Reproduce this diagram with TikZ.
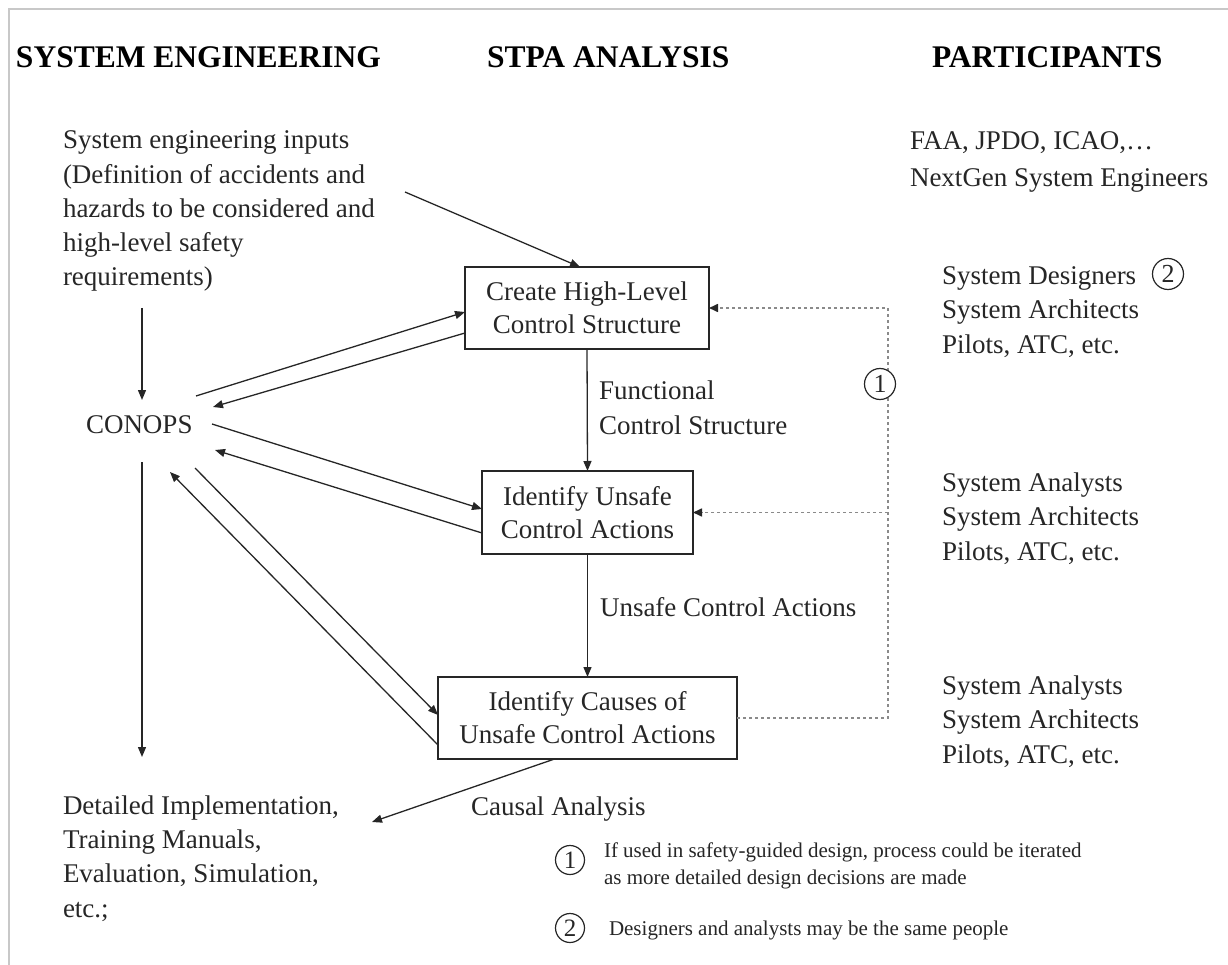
\documentclass[tikz,border=0pt]{standalone}
\usepackage{fontspec}
\setmainfont{Liberation Serif}
\usetikzlibrary{arrows.meta}
\definecolor{ink}{HTML}{262626}
\definecolor{framegray}{HTML}{C8C8C8}
\definecolor{dotgray}{HTML}{8A8A8A}
\begin{document}
\begin{tikzpicture}[x=1pt,y=-1pt,
  txt/.style={inner sep=0pt, outer sep=0pt, anchor=base west, align=left, text=ink,
    font=\fontsize{27}{34.3}\selectfont},
  head/.style={inner sep=0pt, outer sep=0pt, anchor=base west, text=black,
    font=\bfseries\fontsize{31.5}{31.5}\selectfont},
  note/.style={inner sep=0pt, outer sep=0pt, anchor=base west, align=left, text=ink,
    font=\fontsize{21}{27}\selectfont},
  stpabox/.style={draw=ink, line width=1.3pt, inner sep=0pt, outer sep=0pt, align=center,
    text=ink, font=\fontsize{27}{33}\selectfont},
  arr/.style={draw=ink, line width=1.3pt, -{Triangle[length=10pt,width=8pt]}},
  dotline/.style={draw=dotgray, line width=1.6pt, dash pattern=on 3pt off 3pt},
  dotarr/.style={dotline, -{Triangle[length=9pt,width=8pt,color=ink]}},
  numcirc/.style={circle, draw=ink, line width=1.2pt, inner sep=0pt, fill=white,
    text=ink, minimum size=#1},
]
\useasboundingbox (0,0) rectangle (1228,965);
% frame
\draw[framegray, line width=2pt] (9,965) -- (9,9) -- (1228,9);

% headings
\node[head] (h1) at (16,68) {SYSTEM ENGINEERING};
\node[head] (h2) at (487,68) {STPA ANALYSIS};
\node[head] (h3) at (932,68) {PARTICIPANTS};

% left column (base anchor = baseline of last line)
\node[txt] (inputs) at (63,286) {System engineering inputs\\(Definition of accidents and\\hazards to be considered and\\high-level safety\\requirements)};
\node[txt] (conops) at (86,433) {CONOPS};
\node[txt] (detailed) at (63,917) {Detailed Implementation,\\Training Manuals,\\Evaluation, Simulation,\\etc.;};

% STPA boxes
\node[stpabox, minimum width=244pt, minimum height=82pt] (b1) at (587,308) {Create High-Level\\Control Structure};
\node[stpabox, minimum width=211pt, minimum height=83pt] (b2) at (587.5,512.5) {Identify Unsafe\\Control Actions};
\node[stpabox, minimum width=299pt, minimum height=82pt] (b3) at (587.5,718) {Identify Causes of\\Unsafe Control Actions};

% labels
\node[txt] (fcs) at (599,434) {Functional\\Control Structure};
\node[txt] (ucal) at (600,616) {Unsafe Control Actions};
\node[txt] (causal) at (471,815) {Causal Analysis};

% participants
\node[txt] (faa) at (910,150) {FAA, JPDO, ICAO,…};
\node[txt] (nextgen) at (910,187) {NextGen System Engineers};
\node[txt] (g1) at (942,353) {System Designers\\System Architects\\Pilots, ATC, etc.};
\node[numcirc=31pt, font=\fontsize{26}{26}\selectfont] (p2) at (1168,274) {2};
\node[txt] (g2) at (942,560) {System Analysts\\System Architects\\Pilots, ATC, etc.};
\node[txt] (g3) at (942,763) {System Analysts\\System Architects\\Pilots, ATC, etc.};

% footnotes
\node[numcirc=29pt, font=\fontsize{25}{25}\selectfont] (f1c) at (570,860) {1};
\node[note] (f1) at (604,884) {If used in safety-guided design, process could be iterated\\as more detailed design decisions are made};
\node[numcirc=29pt, font=\fontsize{25}{25}\selectfont] (f2c) at (570,928) {2};
\node[note] (f2) at (609,935) {Designers and analysts may be the same people};

% free ends
\coordinate (tin) at (405,192);
\coordinate (vin1) at (142,308);
\coordinate (vin2) at (142,400);
\coordinate (vout1) at (142,462);
\coordinate (vout2) at (142,757);
\coordinate (c1) at (196,396);
\coordinate (c2) at (213,407);
\coordinate (c3) at (212,424);
\coordinate (c4) at (215,450);
\coordinate (c5) at (195,468);
\coordinate (c6) at (170,472);
\coordinate (dend) at (372,822);
\coordinate (dtop) at (888,308);
\coordinate (dmid) at (888,512.5);

% connectors
\draw[arr] (tin) -- ([xshift=-7pt]b1.north);
\draw[arr] (vin1) -- (vin2);
\draw[arr] (vout1) -- (vout2);
\draw[arr] (c1) -- ([yshift=-4pt]b1.west);
\draw[arr] ([yshift=-25pt]b1.west) -- (c2);
\draw[arr] (c3) -- ([yshift=3.5pt]b2.west);
\draw[arr] ([yshift=-20.5pt]b2.west) -- (c4);
\draw[arr] (c5) -- ([yshift=3pt]b3.west);
\draw[arr] ([yshift=-27pt]b3.west) -- (c6);
\draw[arr] (b1.south) -- (b2.north);
\draw[arr] (b2.south) -- (b3.north);
\draw[arr] ([xshift=-33pt]b3.south) -- (dend);

% dotted feedback
\draw[dotarr] (b3.east) -| (dtop) -- (b1.east);
\draw[dotarr] (dmid) -- (b2.east);
\node[numcirc=31pt, font=\fontsize{26}{26}\selectfont] (p1) at (880,384) {1};
\end{tikzpicture}
\end{document}
